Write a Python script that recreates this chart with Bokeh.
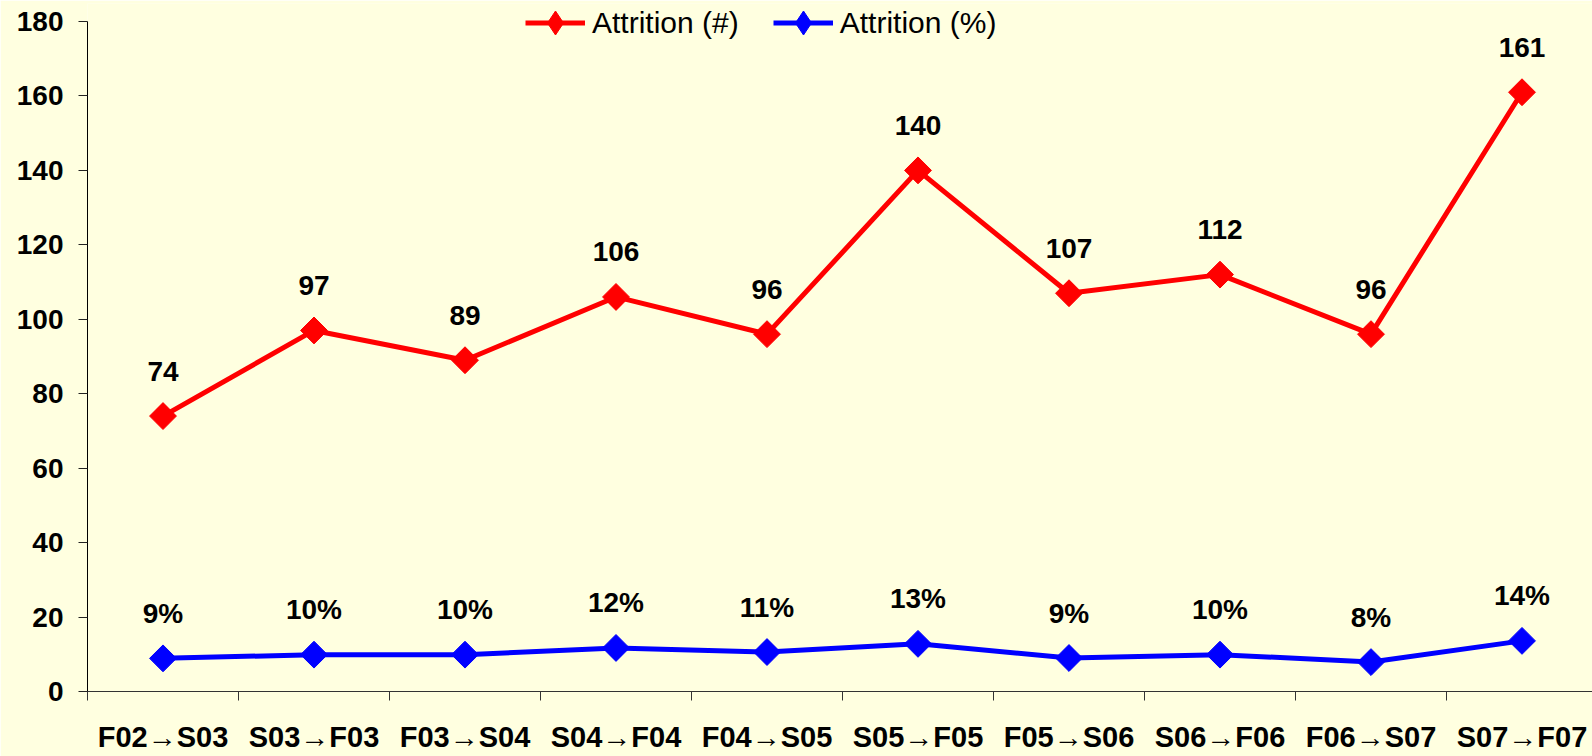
import math
from bokeh.plotting import figure
from bokeh.models import Range1d, FixedTicker, Legend, LegendItem, ColumnDataSource, LinearAxis
from bokeh.core.properties import value
from bokeh.embed import file_html
from bokeh.resources import INLINE

categories = ["F02→S03", "S03→F03", "F03→S04", "S04→F04", "F04→S05",
              "S05→F05", "F05→S06", "S06→F06", "F06→S07", "S07→F07"]
attrition_count = [74, 97, 89, 106, 96, 140, 107, 112, 96, 161]
attrition_pct = [8.9, 9.9, 9.9, 11.7, 10.6, 12.8, 9.0, 9.9, 7.9, 13.6]
pct_labels = ["9%", "10%", "10%", "12%", "11%", "13%", "9%", "10%", "8%", "14%"]
y_ticks = [0, 20, 40, 60, 80, 100, 120, 140, 160, 180]

xs = [i + 0.5 for i in range(len(categories))]
bounds = [i for i in range(len(categories) + 1)]

BG = "#FFFFE0"
FONT = "Liberation Sans"

# frame: 688 px tall, 0..180 occupies the lower 670 px; the extra top strip holds the legend
Y_TOP = 180 + 18 * 180 / 670

p = figure(width=1592, height=756, output_backend="svg", toolbar_location=None,
           x_range=Range1d(0, 1505 / 151), y_range=Range1d(0, Y_TOP),
           x_axis_location=None, y_axis_location=None,
           min_border_left=87, min_border_right=0, min_border_top=3, min_border_bottom=65,
           background_fill_color=BG, border_fill_color=BG, outline_line_color=None)
p.grid.visible = False

xaxis = LinearAxis(ticker=FixedTicker(ticks=xs, minor_ticks=bounds),
                   major_label_overrides={x: c for x, c in zip(xs, categories)},
                   major_tick_out=0, major_tick_in=0, minor_tick_out=9, minor_tick_in=0,
                   minor_tick_line_color="#333333", axis_line_color="#333333",
                   major_label_text_font=FONT, major_label_text_font_style="bold",
                   major_label_text_font_size="29px", major_label_text_color="black",
                   major_label_standoff=20)
p.add_layout(xaxis, "below")

yaxis = LinearAxis(ticker=FixedTicker(ticks=y_ticks, minor_ticks=[]), bounds=(0, 180),
                   major_tick_out=9, major_tick_in=0, minor_tick_out=0, minor_tick_in=0,
                   major_tick_line_color="#222222", axis_line_color="black",
                   major_label_text_font=FONT, major_label_text_font_style="bold",
                   major_label_text_font_size="28px", major_label_text_color="black",
                   major_label_standoff=15)
p.add_layout(yaxis, "left")

src = ColumnDataSource(dict(x=xs, cnt=attrition_count, pct=attrition_pct,
                            cnt_lab=[str(v) for v in attrition_count], pct_lab=pct_labels))

r1 = p.line("x", "cnt", source=src, line_color="#FF0000", line_width=5)
p.scatter("x", "cnt", source=src, marker="square", size=19, angle=math.pi / 4,
          fill_color="#FF0000", line_color="#FF0000")
r2 = p.line("x", "pct", source=src, line_color="#0000FF", line_width=5)
p.scatter("x", "pct", source=src, marker="square", size=19, angle=math.pi / 4,
          fill_color="#0000FF", line_color="#0000FF")

# legend-only diamond glyphs (a single undrawable NaN point each)
nan = float("nan")
lg1 = p.scatter(x=[nan], y=[nan], marker="diamond", fill_color="#FF0000", line_color="#FF0000")
lg2 = p.scatter(x=[nan], y=[nan], marker="diamond", fill_color="#0000FF", line_color="#0000FF")

p.text("x", "cnt", text="cnt_lab", source=src, y_offset=-45, text_align="center",
       text_baseline="middle", text_font=value(FONT), text_font_style="bold",
       text_font_size="28px", text_color="black")
p.text("x", "pct", text="pct_lab", source=src, y_offset=-45, text_align="center",
       text_baseline="middle", text_font=value(FONT), text_font_style="bold",
       text_font_size="28px", text_color="black")

legend = Legend(items=[LegendItem(label="Attrition (#)", renderers=[r1, lg1]),
                       LegendItem(label="Attrition (%)", renderers=[r2, lg2])],
                orientation="horizontal", location=(438, 636),
                padding=0, margin=0, spacing=34, glyph_width=60, glyph_height=65,
                label_standoff=7, label_text_font=FONT,
                label_text_font_size="30px", label_text_color="black",
                background_fill_alpha=0, border_line_color=None)
p.add_layout(legend, "center")

open("out.html", "w").write(file_html(p, INLINE))
